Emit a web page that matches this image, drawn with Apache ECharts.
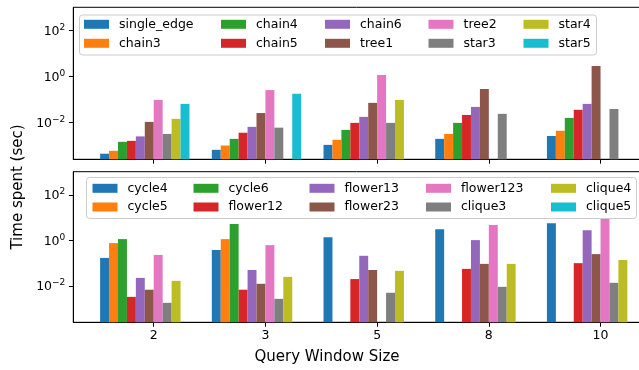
<!DOCTYPE html>
<html><head><meta charset="utf-8">
<script src="https://cdn.jsdelivr.net/npm/echarts@6/dist/echarts.min.js"></script>
<style>html,body{margin:0;padding:0;background:#fff}#c{width:639px;height:370px}</style>
</head><body><div id="c"></div>
<script>
// ---- data ----
const categories = ['2', '3', '5', '8', '10'];
const yTickValues = [0.01, 1, 100];
const topNames = ['single_edge','chain3','chain4','chain5','chain6','tree1','tree2','star3','star4','star5'];
const bottomNames = ['cycle4','cycle5','cycle6','flower12','flower13','flower23','flower123','clique3','clique4','clique5'];

// top panel
const single_edge = [4.4e-4, 6.5e-4, 1.07e-3, 1.95e-3, 2.6e-3];
const chain3      = [5.9e-4, 1.0e-3, 1.77e-3, 3.2e-3, 4.4e-3];
const chain4      = [1.45e-3, 1.95e-3, 4.8e-3, 9.7e-3, 0.016];
const chain5      = [1.6e-3, 3.6e-3, 9.7e-3, 0.0215, 0.036];
const chain6      = [2.5e-3, 6.5e-3, 0.0177, 0.048, 0.065];
const tree1       = [0.0107, 0.026, 0.072, 0.29, 2.9];
const tree2       = [0.097, 0.26, 1.19, null, null];
const star3       = [3.2e-3, 6.0e-3, 9.7e-3, 0.024, 0.039];
const star4       = [0.0145, null, 0.097, null, null];
const star5       = [0.065, 0.18, null, null, null];

// bottom panel
const cycle4    = [0.17, 0.38, 1.39, 3.1, 5.7];
const cycle5    = [0.76, 1.14, null, null, null];
const cycle6    = [1.14, 5.2, null, null, null];
const flower12  = [3.3e-3, 6.8e-3, 0.020, 0.056, 0.10];
const flower13  = [0.0225, 0.050, 0.21, 1.03, 2.8];
const flower23  = [6.8e-3, 0.0124, 0.050, 0.093, 0.25];
const flower123 = [0.23, 0.62, null, 4.7, 9.5];
const clique3   = [1.8e-3, 2.7e-3, 5.0e-3, 9.1e-3, 0.0137];
const clique4   = [0.0167, 0.025, 0.046, 0.093, 0.138];
const clique5   = [null, null, null, null, null];

const topData = [single_edge, chain3, chain4, chain5, chain6, tree1, tree2, star3, star4, star5];
const bottomData = [cycle4, cycle5, cycle6, flower12, flower13, flower23, flower123, clique3, clique4, clique5];

// ---- style ----
const FONT = 'DejaVu Sans';
const palette = ['#1f77b4','#ff7f0e','#2ca02c','#d62728','#9467bd','#8c564b','#e377c2','#7f7f7f','#bcbd22','#17becf'];
const yMin = Math.pow(10, -3.6), yMax = Math.pow(10, 3.02);
const xTicks = categories.map((c, i) => i);

function supFmt(v) {
  const e = Math.round(Math.log10(v));
  return '{b|10}{e|' + (e < 0 ? '\u2212' + (-e) : String(e)) + '}';
}

function mkSeries(names, arrays, g) {
  const s = names.map((n, i) => ({
    name: n, type: 'bar', xAxisIndex: g, yAxisIndex: g,
    barWidth: '8%', barGap: '0%',
    itemStyle: { color: palette[i] },
    data: arrays[i].map((v, k) => [k, v]).filter(d => d[1] != null)
  }));
  for (let j = 0; j < 2; j++) {
    s.push({ name: '_pad' + g + j, type: 'bar', xAxisIndex: g, yAxisIndex: g, barWidth: '8%', barGap: '0%', data: [] });
  }
  return s;
}

const legends = [];
function addLegend(names, lefts, top, rowStep) {
  for (let c = 0; c < 5; c++) {
    legends.push({
      data: [names[2 * c], names[2 * c + 1]], orient: 'vertical',
      left: lefts[c], top: top, padding: 0, itemGap: rowStep - 14,
      itemWidth: 25, itemHeight: 9, icon: 'rect', selectedMode: false,
      textStyle: { fontFamily: FONT, fontSize: 12.5, color: '#000', lineHeight: 14, padding: [0, 0, 0, 5] }
    });
  }
}
addLegend(topNames, [84, 221, 325, 428.5, 523.5], 17.3, 19);
addLegend(bottomNames, [92.5, 193.5, 309.5, 426, 551], 181.3, 18.7);

function mkX(g) {
  return {
    type: 'value', gridIndex: g, min: -0.72, max: 4.56, splitLine: { show: false },
    axisLine: { show: true, onZero: false, lineStyle: { color: '#000', width: 1 } },
    axisTick: { show: true, length: 4.4, customValues: xTicks, lineStyle: { color: '#000', width: 1 } },
    axisLabel: { show: g === 1, customValues: xTicks, margin: 7, formatter: v => categories[Math.round(v)],
      fontFamily: FONT, fontSize: 12.5, color: '#000' }
  };
}
function mkY(g) {
  return {
    type: 'log', logBase: 10, gridIndex: g, min: yMin, max: yMax, startValue: yMin,
    splitLine: { show: false },
    axisLine: { show: true, onZero: false, lineStyle: { color: '#000', width: 1 } },
    axisTick: { show: true, length: 4.4, customValues: yTickValues, lineStyle: { color: '#000', width: 1 } },
    axisLabel: { customValues: yTickValues, margin: 8, formatter: supFmt,
      rich: {
        b: { fontFamily: FONT, fontSize: 12.5, color: '#000', lineHeight: 15, verticalAlign: 'bottom' },
        e: { fontFamily: FONT, fontSize: 9, color: '#000', lineHeight: 10, verticalAlign: 'top' }
      } }
  };
}

const chart = echarts.init(document.getElementById('c'), null, { renderer: 'canvas' });
chart.setOption({
  animation: false,
  backgroundColor: '#fff',
  grid: [
    { left: 73.3, top: 7.3, width: 589.8, height: 152, outerBoundsMode: 'none', containLabel: false,
      show: true, borderColor: '#000', borderWidth: 1, backgroundColor: 'transparent' },
    { left: 73.3, top: 171.7, width: 589.8, height: 150.6, outerBoundsMode: 'none', containLabel: false,
      show: true, borderColor: '#000', borderWidth: 1, backgroundColor: 'transparent' }
  ],
  xAxis: [mkX(0), mkX(1)],
  yAxis: [mkY(0), mkY(1)],
  legend: legends,
  series: mkSeries(topNames, topData, 0).concat(mkSeries(bottomNames, bottomData, 1)),
  graphic: [
    { type: 'rect', z: 3, shape: { x: 79.5, y: 15, width: 517, height: 40, r: 3 },
      style: { fill: 'rgba(255,255,255,0.8)', stroke: '#cccccc', lineWidth: 1 } },
    { type: 'rect', z: 3, shape: { x: 86.5, y: 177.5, width: 550, height: 41, r: 3 },
      style: { fill: 'rgba(255,255,255,0.8)', stroke: '#cccccc', lineWidth: 1 } },
    { type: 'text', z: 5, x: 327, y: 357,
      style: { text: 'Query Window Size', font: '15px "DejaVu Sans"', fill: '#000', align: 'center', verticalAlign: 'middle', textAlign: 'center', textVerticalAlign: 'middle' } },
    { type: 'text', z: 5, x: 18.5, y: 187, rotation: Math.PI / 2,
      style: { text: 'Time spent (sec)', font: '15px "DejaVu Sans"', fill: '#000', align: 'center', verticalAlign: 'middle', textAlign: 'center', textVerticalAlign: 'middle' } }
  ]
});
</script>
</body></html>
